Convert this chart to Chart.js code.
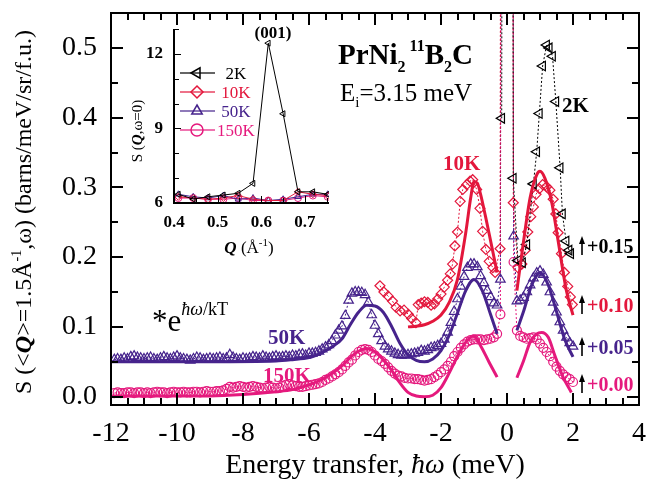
<!DOCTYPE html>
<html>
<head>
<meta charset="utf-8">
<script src="https://cdn.jsdelivr.net/npm/chart.js@4.4.1/dist/chart.umd.min.js"></script>
<style>
  body { margin: 0; background: #fff; }
  #wrap { position: relative; width: 646px; height: 482px; }
  #main { position: absolute; left: 0; top: 0; }
  #inset { position: absolute; left: 110px; top: 0; }
  .rule { position: absolute; background: #000; pointer-events: none; }
</style>
</head>
<body>
<div id="wrap">
  <canvas id="main" width="646" height="482"></canvas>
  <canvas id="inset" width="240" height="262"></canvas>
</div>
<script>
const SERIF = '"Liberation Serif", "Times New Roman", serif';
const RED = '#e3173c';
const PURPLE = '#46238c';
const PINK = '#e5197d';
const BLACK = '#000000';

// energy transfer grid (meV) of the 50K / 150K scans
const E_LOW = [
  -11.9,-11.8,-11.7,-11.6,-11.5,-11.4,-11.3,-11.2,-11.1,-11.0,
  -10.9,-10.8,-10.7,-10.6,-10.5,-10.4,-10.3,-10.2,-10.1,-10.0,
  -9.9,-9.8,-9.7,-9.6,-9.5,-9.4,-9.3,-9.2,-9.1,-9.0,
  -8.9,-8.8,-8.7,-8.6,-8.5,-8.4,-8.3,-8.2,-8.1,-8.0,
  -7.9,-7.8,-7.7,-7.6,-7.5,-7.4,-7.3,-7.2,-7.1,-7.0,
  -6.9,-6.8,-6.7,-6.6,-6.5,-6.4,-6.3,-6.2,-6.1,-6.0,
  -5.9,-5.8,-5.7,-5.6,-5.5,-5.4,-5.3,-5.2,-5.1,-5.0,
  -4.9,-4.8,-4.7,-4.6,-4.5,-4.4,-4.3,-4.2,-4.1,-4.0,
  -3.9,-3.8,-3.7,-3.6,-3.5,-3.4,-3.3,-3.2,-3.1,-3.0,
  -2.9,-2.8,-2.7,-2.6,-2.5,-2.4,-2.3,-2.2,-2.1,-2.0,
  -1.9,-1.8,-1.7,-1.6,-1.5,-1.4,-1.3,-1.2,-1.1,-1.0,
  -0.9,-0.8,-0.7,-0.6,-0.5,-0.4,-0.3,-0.2
];
const E_HIGH = [0.2,0.3,0.4,0.5,0.6,0.7,0.8,0.9,1.0,1.1,1.2,1.3,1.4,1.5,1.6,1.7,1.8,1.9,2.0];

// 150K, offset +0.00
const S150_LOW = [
  0.005,0.006,0.005,0.005,0.006,0.006,0.005,0.006,0.006,0.005,
  0.006,0.005,0.006,0.007,0.006,0.006,0.005,0.006,0.007,0.006,
  0.006,0.007,0.006,0.006,0.007,0.007,0.006,0.007,0.008,0.007,
  0.007,0.008,0.008,0.009,0.011,0.014,0.013,0.014,0.015,0.014,
  0.013,0.014,0.015,0.014,0.013,0.012,0.013,0.014,0.013,0.012,
  0.013,0.015,0.017,0.018,0.016,0.015,0.014,0.014,0.015,0.016,
  0.017,0.018,0.019,0.021,0.024,0.026,0.029,0.032,0.035,0.039,
  0.044,0.049,0.053,0.059,0.064,0.067,0.068,0.067,0.064,0.059,
  0.054,0.051,0.047,0.042,0.037,0.033,0.030,0.029,0.027,0.026,
  0.026,0.025,0.025,0.024,0.023,0.024,0.025,0.028,0.031,0.035,
  0.039,0.044,0.050,0.058,0.064,0.070,0.075,0.079,0.081,0.082,
  0.082,0.082,0.081,0.082,0.083,0.085,0.090,0.118
];
const S150_HIGH = [0.193,0.095,0.087,0.085,0.083,0.084,0.085,0.082,0.076,0.070,0.064,0.058,0.050,0.043,0.037,0.032,0.028,0.025,0.021];

// 50K, offset +0.05
const S50_LOW = [
  0.053,0.054,0.053,0.055,0.054,0.057,0.058,0.056,0.055,0.054,
  0.055,0.056,0.054,0.053,0.055,0.057,0.055,0.054,0.056,0.058,
  0.055,0.054,0.053,0.052,0.054,0.056,0.055,0.053,0.054,0.055,
  0.054,0.055,0.056,0.054,0.055,0.060,0.056,0.054,0.053,0.055,
  0.054,0.055,0.057,0.056,0.055,0.058,0.056,0.055,0.057,0.058,
  0.056,0.057,0.058,0.057,0.059,0.058,0.060,0.061,0.059,0.062,
  0.062,0.063,0.065,0.068,0.071,0.074,0.080,0.088,0.095,0.101,
  0.116,0.138,0.148,0.150,0.150,0.149,0.146,0.135,0.117,0.102,
  0.090,0.080,0.072,0.068,0.065,0.062,0.060,0.059,0.059,0.060,
  0.061,0.062,0.063,0.066,0.065,0.067,0.070,0.071,0.073,0.076,
  0.082,0.092,0.106,0.122,0.140,0.158,0.172,0.185,0.190,0.190,
  0.186,0.173,0.163,0.152,0.143,0.134,0.131,0.168
];
const S50_HIGH = [0.230,0.137,0.138,0.142,0.150,0.160,0.170,0.177,0.180,0.175,0.164,0.150,0.135,0.121,0.107,0.095,0.085,0.077,0.072];

// 10K, offset +0.10
const E10_LOW = [-3.85,-3.73,-3.6,-3.47,-3.36,-3.24,-3.12,-2.99,-2.89,-2.76,-2.69,-2.6,-2.5,-2.4,-2.3,-2.2,-2.1,-2.0,-1.9,-1.8,-1.72,-1.65,-1.58,-1.5,-1.42,-1.34,-1.22,-1.12,-1.04,-0.92,-0.82,-0.74,-0.64,-0.54,-0.43,-0.36,-0.21];
const S10_LOW = [0.159,0.150,0.144,0.137,0.128,0.123,0.124,0.118,0.112,0.106,0.132,0.134,0.136,0.135,0.131,0.133,0.140,0.147,0.157,0.167,0.176,0.190,0.216,0.236,0.280,0.297,0.304,0.309,0.311,0.297,0.270,0.237,0.211,0.194,0.185,0.178,0.212];
const E10_HIGH = [0.19,0.33,0.45,0.55,0.63,0.72,0.8,0.88,0.98,1.08,1.2,1.3,1.4,1.48,1.55,1.65,1.74,1.84,1.92,1.98];
const S10_HIGH = [0.278,0.185,0.190,0.210,0.236,0.258,0.272,0.290,0.298,0.304,0.301,0.296,0.283,0.262,0.235,0.205,0.178,0.158,0.143,0.132];

// 2K, offset +0.15
const E2_LOW = [-0.16];
const S2_LOW = [0.399];
const E2_HIGH = [0.19,0.33,0.47,0.60,0.80,0.90,0.98,1.08,1.20,1.28,1.38,1.48,1.61,1.68,1.79,1.88,1.93];
const S2_HIGH = [0.313,0.195,0.192,0.218,0.305,0.351,0.406,0.474,0.504,0.500,0.488,0.423,0.328,0.262,0.223,0.210,0.205];

// elastic line at zero energy transfer, far above the plotted range
const ELASTIC_E = 0;
const ELASTIC_S = 8;

// crystal-field fits (solid curves)
const FIT10_E_LOW = [-3.0,-2.75,-2.5,-2.25,-2.0,-1.75,-1.5,-1.25,-1.1,-1.0,-0.9,-0.8,-0.65,-0.5,-0.3];
const FIT10_S_LOW = [0.100,0.101,0.103,0.108,0.117,0.135,0.168,0.235,0.285,0.308,0.306,0.290,0.258,0.224,0.178];
const FIT10_E_HIGH = [0.3,0.5,0.7,0.9,1.0,1.15,1.35,1.55,1.8,2.0];
const FIT10_S_HIGH = [0.152,0.222,0.285,0.318,0.323,0.313,0.280,0.223,0.152,0.117];

const FIT50_E_LOW = [-12,-9,-7,-6.5,-6,-5.75,-5.5,-5.25,-5,-4.75,-4.5,-4.25,-4,-3.75,-3.5,-3.25,-3,-2.75,-2.5,-2.25,-2,-1.75,-1.5,-1.25,-1.0,-0.75,-0.5,-0.3];
const FIT50_S_LOW = [0.050,0.050,0.051,0.053,0.056,0.060,0.066,0.073,0.083,0.103,0.121,0.131,0.130,0.121,0.101,0.077,0.060,0.052,0.050,0.054,0.066,0.088,0.120,0.152,0.168,0.152,0.118,0.090];
const FIT50_E_HIGH = [0.3,0.5,0.75,1.0,1.25,1.5,1.75,2.0];
const FIT50_S_HIGH = [0.095,0.122,0.160,0.178,0.160,0.122,0.082,0.057];

const FIT150_E_LOW = [-12,-9,-8,-7,-6.5,-6,-5.5,-5,-4.75,-4.5,-4.25,-4,-3.75,-3.5,-3.25,-3,-2.75,-2.5,-2.25,-2,-1.75,-1.5,-1.25,-1.0,-0.8,-0.55,-0.3];
const FIT150_S_LOW = [0.001,0.001,0.003,0.007,0.010,0.017,0.027,0.044,0.056,0.065,0.069,0.064,0.053,0.038,0.020,0.006,0.001,0.000,0.002,0.013,0.034,0.058,0.078,0.087,0.073,0.050,0.028];
const FIT150_E_HIGH = [0.3,0.5,0.7,0.9,1.05,1.25,1.45,1.7,1.95];
const FIT150_S_HIGH = [0.027,0.051,0.078,0.090,0.092,0.085,0.059,0.028,0.006];

const OFFSET_LABELS = ['+0.15', '+0.10', '+0.05', '+0.00'];

// inset: S(Q, w=0) around the (001) position
const Q_INSET = [0.41,0.444,0.478,0.513,0.547,0.581,0.616,0.65,0.684,0.718,0.752];
const I2K = [6.35,6.16,6.25,6.32,6.39,6.79,12.43,9.59,6.45,6.45,6.35];
const I10K = [6.25,6.20,6.15,6.20,6.30,6.15,6.10,6.10,6.45,6.35,6.30];
const I50K = [6.35,6.25,6.20,6.30,6.15,6.20,6.10,6.15,6.25,6.35,6.35];
const I150K = [6.20,6.20,6.15,6.15,6.20,6.10,6.10,6.10,6.20,6.30,6.25];

Chart.defaults.font.family = SERIF;
Chart.defaults.color = '#000';

const pts = (xs, ys) => xs.map((x, i) => ({ x: x, y: ys[i] }));
const throughElastic = (eL, sL, eH, sH) =>
  pts(eL, sL).concat([{ x: ELASTIC_E, y: ELASTIC_S }], pts(eH, sH));
const twoBranches = (eL, sL, eH, sH) =>
  pts(eL, sL).concat([{ x: ELASTIC_E, y: null }], pts(eH, sH));

function dataSet(label, data, color, style, radius, rot, order) {
  return {
    label: label, data: data, showLine: true,
    borderColor: color, borderWidth: 1, borderDash: [2, 2],
    pointStyle: style, pointRadius: radius, pointRotation: rot,
    pointBorderColor: color, pointBackgroundColor: 'rgba(255,255,255,0)',
    pointBorderWidth: 1.2, order: order
  };
}
function fitSet(label, data, color) {
  return {
    label: label, data: data, showLine: true, spanGaps: false,
    borderColor: color, borderWidth: 3, pointRadius: 0,
    cubicInterpolationMode: 'monotone', order: 0
  };
}

function hline(ctx, x1, x2, y, w) { ctx.fillRect(Math.min(x1, x2), y - w / 2, Math.abs(x2 - x1), w); }
function vline(ctx, x, y1, y2, w) { ctx.fillRect(x - w / 2, Math.min(y1, y2), w, Math.abs(y2 - y1)); }

// runs: [text, font, dy, color]
function runs(ctx, x, y, parts, align) {
  let w = 0;
  parts.forEach(p => { ctx.font = p[1]; w += ctx.measureText(p[0]).width; });
  let cx = align === 'center' ? x - w / 2 : x;
  parts.forEach(p => {
    ctx.font = p[1];
    ctx.fillStyle = p[3] || '#000';
    ctx.fillText(p[0], cx, y + (p[2] || 0));
    cx += ctx.measureText(p[0]).width;
  });
}
const fnt = (size, style) => (style ? style + ' ' : '') + size + 'px ' + SERIF;

function marker(ctx, style, x, y, r, color) {
  ctx.setLineDash([]);
  ctx.strokeStyle = color;
  ctx.lineWidth = 1.5;
  ctx.beginPath();
  if (style === 'circle') {
    ctx.arc(x, y, r, 0, Math.PI * 2);
  } else if (style === 'diamond') {
    ctx.moveTo(x, y - r); ctx.lineTo(x + r, y); ctx.lineTo(x, y + r); ctx.lineTo(x - r, y); ctx.closePath();
  } else if (style === 'up') {
    ctx.moveTo(x, y - r); ctx.lineTo(x + r * 0.87, y + r * 0.5); ctx.lineTo(x - r * 0.87, y + r * 0.5); ctx.closePath();
  } else {
    ctx.moveTo(x - r, y); ctx.lineTo(x + r * 0.5, y - r * 0.87); ctx.lineTo(x + r * 0.5, y + r * 0.87); ctx.closePath();
  }
  ctx.stroke();
}

function upArrow(ctx, x, y) {
  ctx.fillStyle = '#000';
  vline(ctx, x, y + 9, y - 3, 1.6);
  ctx.beginPath(); ctx.moveTo(x, y - 10); ctx.lineTo(x - 3, y - 2); ctx.lineTo(x + 3, y - 2); ctx.closePath(); ctx.fill();
}

function box(chart) {
  const sx = chart.scales.x, sy = chart.scales.y;
  return { L: sx.getPixelForValue(sx.min), R: sx.getPixelForValue(sx.max), T: sy.getPixelForValue(sy.max), B: sy.getPixelForValue(sy.min) };
}

// titles and annotations of the main panel
const mainText = {
  id: 'mainText',
  afterDraw(chart) {
    const ctx = chart.ctx;
    const { L, R } = box(chart);
    ctx.save();
    ctx.textBaseline = 'alphabetic';
    ctx.textAlign = 'left';
    runs(ctx, (L + R) / 2, 473, [
      ['Energy transfer, ', fnt(28)], ['\u0127\u03c9', fnt(28, 'italic')], [' (meV)', fnt(28)]
    ], 'center');
    ctx.save();
    ctx.translate(31, 212);
    ctx.rotate(-Math.PI / 2);
    runs(ctx, 0, 0, [
      ['S (<', fnt(24)], ['Q', fnt(24, 'italic bold')], ['>=1.5\u00c5', fnt(24)],
      ['-1', fnt(14), -10], [',\u03c9) (barns/meV/sr/f.u.)', fnt(24)]
    ], 'center');
    ctx.restore();

    runs(ctx, 338, 64, [
      ['PrNi', fnt(29, 'bold')], ['2', fnt(16, 'bold'), 8], [' 11', fnt(16, 'bold'), -13],
      ['B', fnt(29, 'bold')], ['2', fnt(16, 'bold'), 8], ['C', fnt(29, 'bold')]
    ]);
    runs(ctx, 340, 101, [['E', fnt(25)], ['i', fnt(15), 6], ['=3.15 meV', fnt(25)]]);

    runs(ctx, 443, 170, [['10K', fnt(21, 'bold'), 0, RED]]);
    runs(ctx, 562, 112, [['2K', fnt(21, 'bold'), 0, BLACK]]);
    runs(ctx, 268, 344, [['50K', fnt(21, 'bold'), 0, PURPLE]]);
    runs(ctx, 263, 382, [['150K', fnt(21, 'bold'), 0, PINK]]);

    runs(ctx, 152, 331, [
      ['*e', fnt(31)], ['\u0127\u03c9', fnt(18, 'italic'), -16], ['/kT', fnt(18), -16]
    ]);

    const offColors = [BLACK, RED, PURPLE, PINK];
    const offY = [246, 305, 347, 384];
    OFFSET_LABELS.forEach((t, i) => {
      upArrow(ctx, 582, offY[i]);
      runs(ctx, 587, offY[i] + 7, [[t, fnt(20, 'bold'), 0, offColors[i]]]);
    });
    ctx.restore();
  }
};

const noPad = s => { s.paddingLeft = 0; s.paddingRight = 0; s.paddingTop = 0; s.paddingBottom = 0; };

const mainChart = new Chart(document.getElementById('main'), {
  type: 'scatter',
  data: {
    datasets: [
      fitSet('fit 10K', twoBranches(FIT10_E_LOW, FIT10_S_LOW, FIT10_E_HIGH, FIT10_S_HIGH), RED),
      fitSet('fit 50K', twoBranches(FIT50_E_LOW, FIT50_S_LOW, FIT50_E_HIGH, FIT50_S_HIGH), PURPLE),
      fitSet('fit 150K', twoBranches(FIT150_E_LOW, FIT150_S_LOW, FIT150_E_HIGH, FIT150_S_HIGH), PINK),
      dataSet('2K', throughElastic(E2_LOW, S2_LOW, E2_HIGH, S2_HIGH), BLACK, 'triangle', 5.5, -90, 1),
      dataSet('10K', throughElastic(E10_LOW, S10_LOW, E10_HIGH, S10_HIGH), RED, 'rectRot', 5, 0, 2),
      dataSet('50K', throughElastic(E_LOW, S50_LOW, E_HIGH, S50_HIGH), PURPLE, 'triangle', 5.5, 0, 3),
      dataSet('150K', throughElastic(E_LOW, S150_LOW, E_HIGH, S150_HIGH), PINK, 'circle', 4.5, 0, 4)
    ]
  },
  options: {
    responsive: false,
    animation: false,
    devicePixelRatio: 1,
    layout: { padding: { left: 0, right: 7, top: 13, bottom: 0 } },
    plugins: { legend: { display: false }, tooltip: { enabled: false } },
    scales: {
      x: {
        type: 'linear', min: -12, max: 4,
        grid: { display: false, drawTicks: false },
        border: { display: false },
        ticks: { stepSize: 2, padding: 12, autoSkip: false, maxRotation: 0, color: '#000',
                 font: { family: SERIF, size: 28 }, callback: v => String(v) },
        afterFit: s => { s.height = 77; noPad(s); }
      },
      y: {
        type: 'linear', min: -0.012, max: 0.55,
        grid: { display: false, drawTicks: false },
        border: { display: false },
        ticks: { stepSize: 0.1, includeBounds: false, padding: 14, color: '#000',
                 font: { family: SERIF, size: 28 }, callback: v => v.toFixed(1) },
        afterFit: s => { s.width = 111; noPad(s); }
      }
    }
  },
  plugins: [mainText]
});

// ---------------- inset ----------------
const insetText = {
  id: 'insetText',
  afterDraw(chart) {
    const ctx = chart.ctx;
    ctx.save();
    ctx.textBaseline = 'alphabetic';
    ctx.textAlign = 'left';
    runs(ctx, 163, 38, [['(001)', fnt(17, 'bold')]], 'center');
    ctx.save();
    ctx.translate(32, 131);
    ctx.rotate(-Math.PI / 2);
    runs(ctx, 0, 0, [['S (', fnt(15)], ['Q', fnt(15, 'italic bold')], [',\u03c9=0)', fnt(15)]], 'center');
    ctx.restore();
    runs(ctx, 139, 253, [
      ['Q', fnt(17, 'italic bold')], [' (\u00c5', fnt(17)], ['-1', fnt(11), -7], [')', fnt(17)]
    ], 'center');

    const rows = [
      ['2K', BLACK, 'left'], ['10K', RED, 'diamond'], ['50K', PURPLE, 'up'], ['150K', PINK, 'circle']
    ];
    rows.forEach((r, i) => {
      const y = 73 + i * 19;
      ctx.fillStyle = r[1];
      hline(ctx, 70, 105, y, 1.2);
      marker(ctx, r[2], 87, y, 6, r[1]);
      runs(ctx, 126, y + 6, [[r[0], fnt(17), 0, r[1]]], 'center');
    });
    ctx.restore();
  }
};

function insetSet(label, ys, color, style, rot) {
  return {
    label: label, data: pts(Q_INSET, ys), showLine: true,
    borderColor: color, borderWidth: 1,
    pointStyle: style, pointRadius: 3.5, pointRotation: rot,
    pointBorderColor: color, pointBackgroundColor: 'rgba(255,255,255,0)', pointBorderWidth: 1
  };
}

const insetChart = new Chart(document.getElementById('inset'), {
  type: 'scatter',
  data: {
    datasets: [
      insetSet('2K', I2K, BLACK, 'triangle', -90),
      insetSet('10K', I10K, RED, 'rectRot', 0),
      insetSet('50K', I50K, PURPLE, 'triangle', 0),
      insetSet('150K', I150K, PINK, 'circle', 0)
    ]
  },
  options: {
    responsive: false,
    animation: false,
    devicePixelRatio: 1,
    layout: { padding: { left: 0, right: 21, top: 29, bottom: 0 } },
    plugins: { legend: { display: false }, tooltip: { enabled: false } },
    scales: {
      x: {
        type: 'linear', min: 0.4, max: 0.755,
        grid: { display: false, drawTicks: false },
        border: { display: false },
        ticks: { stepSize: 0.1, includeBounds: false, padding: 9, color: '#000',
                 font: { family: SERIF, size: 17, weight: 'bold' }, callback: v => v.toFixed(1) },
        afterFit: s => { s.height = 59; noPad(s); }
      },
      y: {
        type: 'linear', min: 6, max: 13,
        grid: { display: false, drawTicks: false },
        border: { display: false },
        ticks: { stepSize: 3, includeBounds: false, padding: 11, color: '#000',
                 font: { family: SERIF, size: 17, weight: 'bold' }, callback: v => String(v) },
        afterFit: s => { s.width = 64; noPad(s); }
      }
    }
  },
  plugins: [insetText]
});

// ---------------- axis frames and inward ticks, laid over both canvases ----------------
const wrap = document.getElementById('wrap');
function rule(x, y, w, h) {
  const d = document.createElement('div');
  d.className = 'rule';
  d.style.left = x + 'px';
  d.style.top = y + 'px';
  d.style.width = w + 'px';
  d.style.height = h + 'px';
  wrap.appendChild(d);
}

(function mainAxes() {
  const sx = mainChart.scales.x, sy = mainChart.scales.y;
  const { L, R, T, B } = box(mainChart);
  for (let k = 0; k <= 32; k++) {
    const px = Math.round(sx.getPixelForValue(-12 + k * 0.5));
    const len = k % 4 === 0 ? 12 : 7;
    rule(px - 1, B - len, 2, len);
    rule(px - 1, T, 2, len);
  }
  for (let k = 0; k <= 10; k++) {
    const py = Math.round(sy.getPixelForValue(k * 0.05));
    const len = k % 2 === 0 ? 12 : 7;
    rule(L, py - 1, len, 2);
    rule(R - len, py - 1, len, 2);
  }
  rule(L - 1, T - 1, R - L + 2, 2);
  rule(L - 1, B - 1, R - L + 2, 2);
  rule(L - 1, T - 1, 2, B - T + 2);
  rule(R - 1, T - 1, 2, B - T + 2);
})();

(function insetAxes() {
  const off = 110;
  const sx = insetChart.scales.x, sy = insetChart.scales.y;
  const { L, R, T, B } = box(insetChart);
  for (let k = 0; k <= 7; k++) {
    const py = Math.round(sy.getPixelForValue(6 + k));
    rule(off + L, py, k % 3 === 0 ? 7 : 5, 1);
    const px = Math.round(sx.getPixelForValue(0.4 + k * 0.05));
    const len = k % 2 === 0 ? 7 : 5;
    rule(off + px, B - len, 1, len);
  }
  rule(off + L - 1, T, 2, B - T + 1);
  rule(off + L - 1, B - 1, R - L + 1, 2);
})();
</script>
</body>
</html>
